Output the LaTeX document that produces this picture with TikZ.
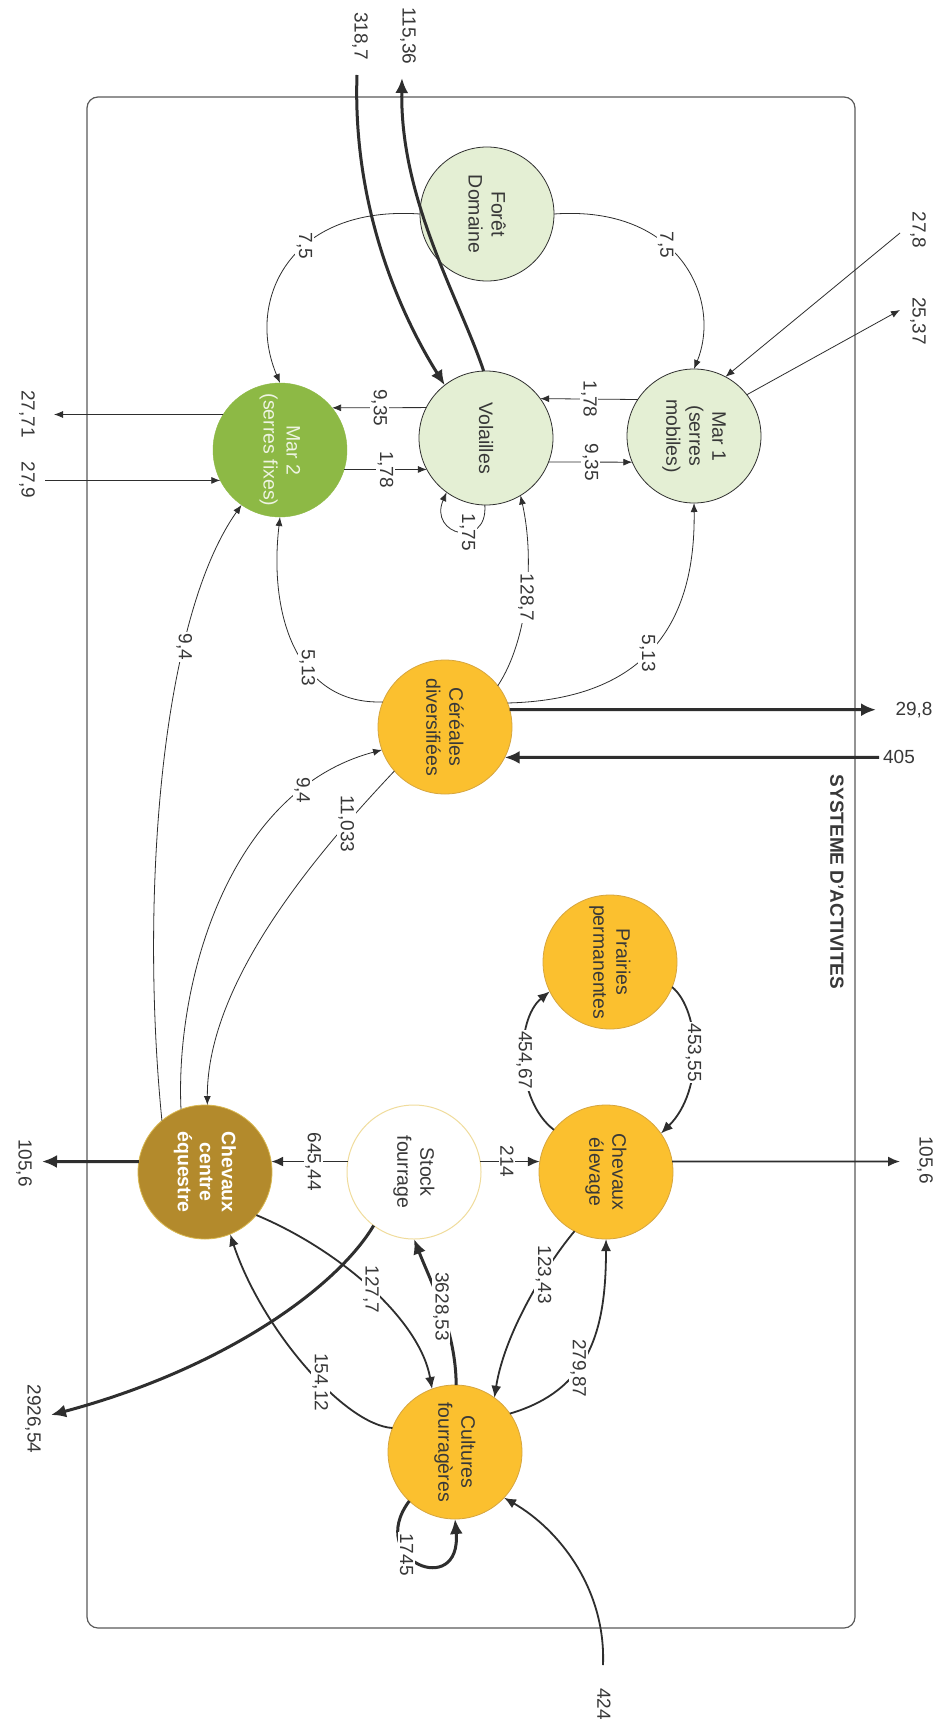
\documentclass[tikz,border=0pt]{standalone}
\usepackage{fontspec}
\setmainfont{Liberation Sans}
\usetikzlibrary{arrows.meta}
\definecolor{lgreen}{HTML}{E4EFD4}
\definecolor{mgreen}{HTML}{8DB945}
\definecolor{mtext}{HTML}{EEF4E2}
\definecolor{orng}{HTML}{FBC02F}
\definecolor{orngb}{HTML}{D6A53E}
\definecolor{goldf}{HTML}{B38A2C}
\definecolor{goldb}{HTML}{D9B850}
\definecolor{stockb}{HTML}{F0DC9C}
\definecolor{ln}{HTML}{2E2E2E}
\definecolor{txt}{HTML}{383838}
\definecolor{boxc}{HTML}{5A5A5A}
\begin{document}
\begin{tikzpicture}[x=1pt,y=-1pt,
 circ/.style={circle,minimum size=134pt,inner sep=0pt,outer sep=0pt},
 gnode/.style={circ,fill=lgreen,draw=ln,line width=0.8pt},
 onode/.style={circ,fill=orng,draw=orngb,line width=0.8pt},
 ctext/.style={rotate=-90,align=center,text=txt,font=\fontsize{19.5}{23}\selectfont},
 elbl/.style={rotate=-90,fill=white,inner sep=1.5pt,text=txt,font=\fontsize{19}{19}\selectfont},
 xlbl/.style={rotate=-90,inner sep=0pt,text=txt,font=\fontsize{19}{19}\selectfont},
 hlbl/.style={inner sep=0pt,text=txt,font=\fontsize{19}{19}\selectfont},
 fthin/.style={draw=ln,line width=0.8pt,-{Latex[length=9pt,width=7pt]}},
 fmed/.style={draw=ln,line width=1.8pt,-{Latex[length=12pt,width=10pt]}},
 fthick/.style={draw=ln,line width=3pt,-{Latex[length=15pt,width=13pt]}},
]
\fill[white] (0,0) rectangle (937,1731);
\useasboundingbox (0,0) rectangle (937,1731);
\draw[boxc, line width=1.2pt, rounded corners=11pt] (87,97) rectangle (855,1628);
\node[rotate=-90,font=\bfseries\fontsize{19}{19}\selectfont,text=txt] (title) at (837,882) {SYSTEME D'ACTIVITES};

% nodes
\node[gnode] (F) at (487,214) {};
\node[ctext] (Ft) at (F) {Forêt\\Domaine};
\node[gnode] (V) at (486,438) {};
\node[ctext] (Vt) at (V) {Volailles};
\node[gnode] (M1) at (694,436) {};
\node[ctext] (M1t) at (M1) {Mar 1\\(serres\\mobiles)};
\node[circ,fill=mgreen,draw=mgreen] (M2) at (280,450) {};
\node[ctext,text=mtext] (M2t) at (M2) {Mar 2\\(serres fixes)};
\node[onode] (C) at (445,727) {};
\node[ctext] (Ct) at (C) {Céréales\\diversifiées};
\node[onode] (P) at (610,962) {};
\node[ctext] (Pt) at (P) {Prairies\\permanentes};
\node[onode] (E) at (606,1172) {};
\node[ctext] (Et) at (E) {Chevaux\\élevage};
\node[circ,fill=white,draw=stockb,line width=1pt] (S) at (414,1172) {};
\node[ctext] (St) at (S) {Stock\\fourrage};
\node[circ,fill=goldf,draw=goldb,line width=0.8pt] (Q) at (205,1172) {};
\node[ctext,text=white,font={\bfseries\fontsize{19.5}{22}\selectfont}] (Qt) at (Q) {Chevaux\\centre\\équestre};
\node[onode] (CF) at (455,1452) {};
\node[ctext] (CFt) at (CF) {Cultures\\fourragères};

% free ends
\coordinate (in318) at (357,75);
\coordinate (out115) at (402,78);
\coordinate (in278) at (900,233);
\coordinate (out2537) at (900,310);
\coordinate (out2771) at (54,414.5);
\coordinate (in279) at (45,480.4);
\coordinate (out298) at (876,709.7);
\coordinate (in405) at (879,757.4);
\coordinate (out1056r) at (900,1161.5);
\coordinate (out1056l) at (42,1161.5);
\coordinate (out2926) at (51,1415);
\coordinate (in424) at (603,1665);

% external labels
\node[xlbl] (l318) at (360,36) {318,7};
\node[xlbl] (l115) at (408,36) {115,36};
\node[xlbl] (l278) at (918,230) {27,8};
\node[xlbl] (l2537) at (918,321) {25,37};
\node[xlbl] (l2771) at (27,414) {27,71};
\node[xlbl] (l279) at (27,480) {27,9};
\node[hlbl] (l298) at (914,710) {29,8};
\node[hlbl] (l405) at (899,757) {405};
\node[xlbl] (l1056r) at (925,1160) {105,6};
\node[xlbl] (l1056l) at (24,1163) {105,6};
\node[xlbl] (l2926) at (33,1419) {2926,54};
\node[xlbl] (l424) at (604,1704) {424};

% connectors
\draw[fthin] (F.180) .. controls (290,205) and (245,300) .. (M2.90) node[elbl,pos=.4]{7,5};
\draw[fthin] (F.0) .. controls (680,205) and (722,300) .. (M1.90) node[elbl,pos=.4]{7,5};
\draw[fthick] (in318) .. controls (352,220) and (410,330) .. (V.128);
\draw[fthick] (V.92) .. controls (460,300) and (400,200) .. (out115);
\draw[fthin] (in278) -- (M1.62);
\draw[fthin] (M1.38) -- (out2537);
\draw[fthin] (V.153) -- (M2.39) node[elbl,pos=.5]{9,35};
\draw[fthin] (M2.-17) -- (V.208) node[elbl,pos=.5]{1,78};
\draw[fthin] (M1.147) -- (V.36) node[elbl,pos=.5]{1,78};
\draw[fthin] (V.-21) -- (M1.203) node[elbl,pos=.5]{9,35};
\draw[fthin] (M2.148) -- (out2771);
\draw[fthin] (in279) -- (M2.207);
\draw[fthin] (V.269) .. controls (488,550) and (428,535) .. (V.234) node[elbl,pos=.4]{1,75};
\draw[fthin] (C.38) .. controls (528,640) and (535,560) .. (V.-59) node[elbl,pos=.5]{128,7};
\draw[fthin] (C.21) .. controls (630,700) and (696,640) .. (M1.-90) node[elbl,pos=.5]{5,13};
\draw[fthin] (C.158) .. controls (300,705) and (268,620) .. (M2.-90) node[elbl,pos=.4]{5,13};
\draw[fthin] (Q.130) .. controls (140,900) and (160,620) .. (M2.235) node[elbl,pos=.7]{9,4};
\draw[fthin] (Q.111) .. controls (175,980) and (230,790) .. (C.200) node[elbl,pos=.8]{9,4};
\draw[fthin] (C.221) .. controls (320,850) and (207,980) .. (Q.88) node[elbl,pos=.2]{11,033};
\draw[fthick] (C.15) -- (out298);
\draw[fthick] (in405) -- (C.-27);
\draw[fmed] (E.141) .. controls (515,1100) and (515,1020) .. (P.206) node[elbl,pos=.5]{454,67};
\draw[fmed] (P.-22) .. controls (700,1010) and (705,1090) .. (E.35) node[elbl,pos=.5]{453,55};
\draw[fmed] (E.9) -- (out1056r);
\draw[fmed] (S.9) -- (E.171) node[elbl,pos=.45]{214};
\draw[fmed] (S.171) -- (Q.9) node[elbl,pos=.45]{645,44};
\draw[fthick] (Q.171) -- (out1056l);
\draw[fmed] (CF.35) .. controls (590,1390) and (606,1330) .. (E.-90) node[elbl,pos=.4]{279,87};
\draw[fmed] (E.242) .. controls (550,1260) and (505,1330) .. (CF.54) node[elbl,pos=.35]{123,43};
\draw[fthick] (CF.89) .. controls (456,1330) and (430,1280) .. (S.-90) node[elbl,pos=.5]{3628,53};
\draw[fmed] (Q.-40) .. controls (340,1250) and (420,1320) .. (CF.110) node[elbl,pos=.5]{127,7};
\draw[fmed] (CF.159) .. controls (345,1425) and (262,1330) .. (Q.-68) node[elbl,pos=.42]{154,12};
\draw[fthick] (S.233) .. controls (335,1290) and (220,1370) .. (out2926);
\draw[fthick] (CF.227) .. controls (365,1560) and (462,1600) .. (CF.270) node[elbl,pos=.38]{1745};
\draw[fmed] (in424) .. controls (606,1590) and (560,1530) .. (CF.-43);
\end{tikzpicture}
\end{document}
